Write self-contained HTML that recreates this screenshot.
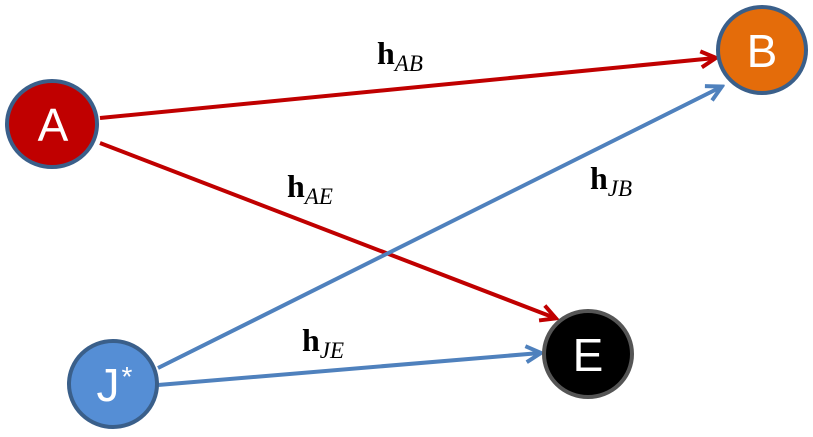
<html><body style="margin:0;background:#fff">
<svg width="813" height="437" xmlns="http://www.w3.org/2000/svg">
<defs>
<marker id="r2" markerWidth="20" markerHeight="20" refX="16" refY="10" orient="auto" markerUnits="userSpaceOnUse"><path d="M2,2 L17,10 L2,18" fill="none" stroke="#c00000" stroke-width="4"/></marker>
<marker id="b2" markerWidth="20" markerHeight="20" refX="16" refY="10" orient="auto" markerUnits="userSpaceOnUse"><path d="M2,2 L17,10 L2,18" fill="none" stroke="#4f81bd" stroke-width="4"/></marker>
</defs>
<g stroke-width="4" fill="none">
<line x1="100" y1="118" x2="715" y2="58" stroke="#c00000" marker-end="url(#r2)"/>
<line x1="100" y1="143" x2="555" y2="318" stroke="#c00000" marker-end="url(#r2)"/>
<line x1="158" y1="368" x2="721" y2="87" stroke="#4f81bd" marker-end="url(#b2)"/>
<line x1="158" y1="385" x2="540" y2="353" stroke="#4f81bd" marker-end="url(#b2)"/>
</g>
<g stroke-width="4">
<ellipse cx="52" cy="124" rx="45" ry="43" fill="#c00000" stroke="#3a5f8a"/>
<ellipse cx="762" cy="50" rx="44" ry="43" fill="#e46c0a" stroke="#3a5f8a"/>
<ellipse cx="113" cy="384" rx="44" ry="43" fill="#558ed5" stroke="#3a5f8a"/>
<ellipse cx="588" cy="354" rx="44" ry="43" fill="#000" stroke="#555"/>
</g>
<g fill="#fff" font-family="Liberation Sans Narrow, Liberation Sans, sans-serif" font-size="46" text-anchor="middle">
<text x="53" y="141">A</text>
<text x="762" y="67">B</text>
<text x="108" y="401">J</text>
<text x="127" y="386" font-size="28">*</text>
<text x="588" y="371">E</text>
</g>
<g font-family="Liberation Serif, serif" fill="#000">
<text x="377" y="64" font-size="32" font-weight="bold">h<tspan font-size="23" font-style="italic" font-weight="normal" dy="7">AB</tspan></text>
<text x="287" y="197" font-size="32" font-weight="bold">h<tspan font-size="23" font-style="italic" font-weight="normal" dy="7">AE</tspan></text>
<text x="590" y="189" font-size="32" font-weight="bold">h<tspan font-size="23" font-style="italic" font-weight="normal" dy="7">JB</tspan></text>
<text x="302" y="351" font-size="32" font-weight="bold">h<tspan font-size="23" font-style="italic" font-weight="normal" dy="7">JE</tspan></text>
</g>
</svg>
</body></html>
